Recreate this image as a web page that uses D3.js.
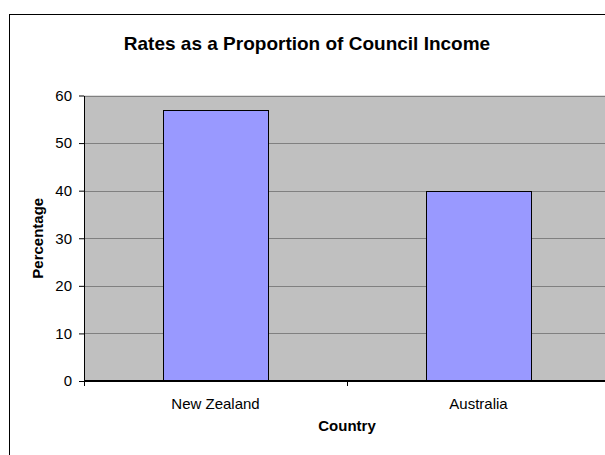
<!DOCTYPE html>
<html>
<head>
<meta charset="utf-8">
<script src="https://cdn.jsdelivr.net/npm/d3@7"></script>
<style>
  html, body { margin: 0; padding: 0; background: #fff; }
  svg { display: block; font-family: Arial, "Liberation Sans", sans-serif; }
</style>
</head>
<body>
<svg id="chart" width="605" height="455"></svg>
<script>
// Chart data
const countries = ["New Zealand", "Australia"];
const percentages = [57, 40];
const yTicks = [0, 10, 20, 30, 40, 50, 60];

const svg = d3.select("#chart");

// Plot area bounds (the plot runs past the right edge of the page)
const plot = { left: 84, top: 95.5, right: 610, bottom: 381 };

// Outer chart frame
svg.append("rect")
  .attr("x", 9.5).attr("y", 14.5)
  .attr("width", 620).attr("height", 470)
  .attr("fill", "#fff").attr("stroke", "#000").attr("stroke-width", 1);

const xBand = d3.scaleBand().domain(countries).range([plot.left, plot.right]);

const y = d3.scaleLinear().domain([0, 60]).range([plot.bottom, plot.top]);

// Grey plot background
svg.append("rect")
  .attr("x", plot.left).attr("y", plot.top)
  .attr("width", plot.right - plot.left).attr("height", plot.bottom - plot.top)
  .attr("fill", "#c0c0c0");

// Horizontal gridlines
svg.append("g")
  .selectAll("line")
  .data(yTicks.filter(d => d > 0))
  .join("line")
  .attr("x1", plot.left).attr("x2", plot.right)
  .attr("y1", d => Math.round(y(d)) + 0.5).attr("y2", d => Math.round(y(d)) + 0.5)
  .attr("stroke", "#808080").attr("stroke-width", 1);

// Bars (40% of each category band, centred)
svg.append("g")
  .selectAll("rect")
  .data(countries)
  .join("rect")
  .attr("x", d => Math.round(xBand(d) + xBand.bandwidth() * 0.3) + 0.5)
  .attr("width", Math.round(xBand.bandwidth() * 0.4))
  .attr("y", (d, i) => Math.round(y(percentages[i])) + 0.5)
  .attr("height", (d, i) => plot.bottom - Math.round(y(percentages[i])) - 0.5)
  .attr("fill", "#9999ff")
  .attr("stroke", "#000").attr("stroke-width", 1);

// Y axis
const yAxis = d3.axisLeft(y)
  .tickValues(yTicks)
  .tickSize(5)
  .tickPadding(7)
  .tickSizeOuter(0);

const gy = svg.append("g")
  .attr("transform", `translate(${plot.left},0)`)
  .call(yAxis);
gy.select(".domain").attr("stroke", "#000");
gy.selectAll(".tick line").attr("stroke", "#000");
gy.selectAll(".tick text")
  .attr("font-size", 15).attr("fill", "#000")
  .attr("font-family", "Arial, 'Liberation Sans', sans-serif");

// X axis: ticks sit on category boundaries, labels centred in each band
const boundaries = countries.map(d => xBand(d));
const gx = svg.append("g").attr("transform", `translate(0,${plot.bottom})`);
gx.append("line")
  .attr("x1", plot.left).attr("x2", plot.right)
  .attr("y1", 0).attr("y2", 0)
  .attr("stroke", "#000").attr("stroke-width", 2);
gx.selectAll("line.tk")
  .data(boundaries)
  .join("line").attr("class", "tk")
  .attr("x1", d => Math.round(d) + 0.5).attr("x2", d => Math.round(d) + 0.5)
  .attr("y1", 0).attr("y2", 5)
  .attr("stroke", "#000");
gx.selectAll("text")
  .data(countries)
  .join("text")
  .attr("x", d => xBand(d) + xBand.bandwidth() / 2)
  .attr("y", 28)
  .attr("text-anchor", "middle")
  .attr("font-size", 15)
  .text(d => d);

// Titles
svg.append("text")
  .attr("x", 307).attr("y", 50)
  .attr("text-anchor", "middle")
  .attr("font-size", 19).attr("font-weight", "bold")
  .text("Rates as a Proportion of Council Income");

svg.append("text")
  .attr("x", 347).attr("y", 431)
  .attr("text-anchor", "middle")
  .attr("font-size", 15).attr("font-weight", "bold")
  .text("Country");

svg.append("text")
  .attr("transform", `translate(43,${(plot.top + plot.bottom) / 2}) rotate(-90)`)
  .attr("text-anchor", "middle")
  .attr("font-size", 15).attr("font-weight", "bold")
  .text("Percentage");
</script>
</body>
</html>
